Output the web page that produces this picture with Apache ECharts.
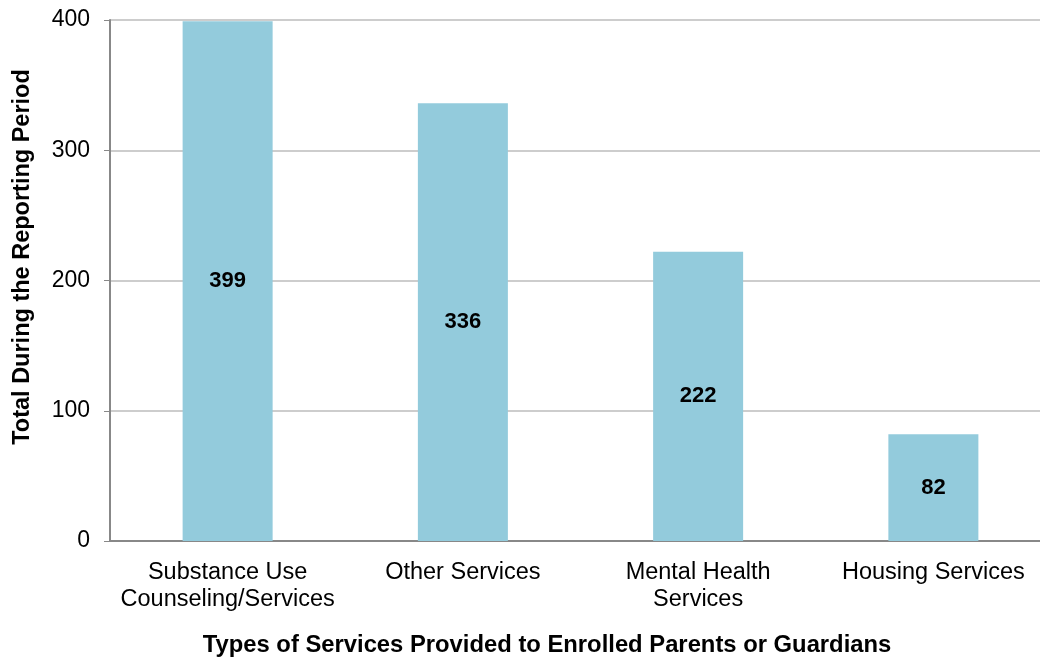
<!DOCTYPE html>
<html>
<head>
<meta charset="utf-8">
<script src="https://cdn.jsdelivr.net/npm/echarts@6/dist/echarts.min.js"></script>
<style>
  html, body { margin: 0; padding: 0; background: #ffffff; }
  #chart { width: 1040px; height: 659px; }
</style>
</head>
<body>
<div id="chart"></div>
<script>
// Service categories and totals for the reporting period
const categories = [
  'Substance Use\nCounseling/Services',
  'Other Services',
  'Mental Health\nServices',
  'Housing Services'
];
const totals = [399, 336, 222, 82];
const yTicks = { min: 0, max: 400, interval: 100 };

const FONT = 'Arial, "Liberation Sans", sans-serif';

const chart = echarts.init(document.getElementById('chart'), null, { renderer: 'canvas' });

chart.setOption({
  animation: false,
  backgroundColor: '#ffffff',
  grid: {
    left: 110, top: 20, width: 941, bottom: 118,
    outerBoundsMode: 'none', containLabel: false
  },
  xAxis: {
    type: 'category',
    data: categories,
    axisLine: { lineStyle: { color: '#888888', width: 2 } },
    axisTick: { show: false },
    axisLabel: {
      color: '#000000', fontFamily: FONT, fontSize: 23.5,
      lineHeight: 27, margin: 18, interval: 0
    }
  },
  yAxis: {
    type: 'value',
    min: yTicks.min, max: yTicks.max, interval: yTicks.interval,
    axisLine: { show: true, lineStyle: { color: '#888888', width: 2 } },
    axisTick: { show: true, length: 6, lineStyle: { color: '#888888', width: 1 } },
    splitLine: { lineStyle: { color: '#bdbdbd', width: 1.5 } },
    axisLabel: { color: '#000000', fontFamily: FONT, fontSize: 23, margin: 20 }
  },
  series: [{
    type: 'bar',
    data: totals,
    barWidth: 90,
    itemStyle: { color: '#93cbdc' },
    label: {
      show: true, position: 'inside', color: '#000000',
      fontFamily: FONT, fontSize: 22, fontWeight: 'bold'
    }
  }],
  graphic: [
    {
      type: 'text',
      x: 23, y: 257, rotation: Math.PI / 2,
      style: {
        text: 'Total During the Reporting Period',
        font: 'bold 23.5px ' + FONT, fill: '#000000',
        align: 'center', verticalAlign: 'middle'
      }
    },
    {
      type: 'text',
      x: 547, y: 645,
      style: {
        text: 'Types of Services Provided to Enrolled Parents or Guardians',
        font: 'bold 23.8px ' + FONT, fill: '#000000',
        align: 'center', verticalAlign: 'middle'
      }
    }
  ]
});
</script>
</body>
</html>
